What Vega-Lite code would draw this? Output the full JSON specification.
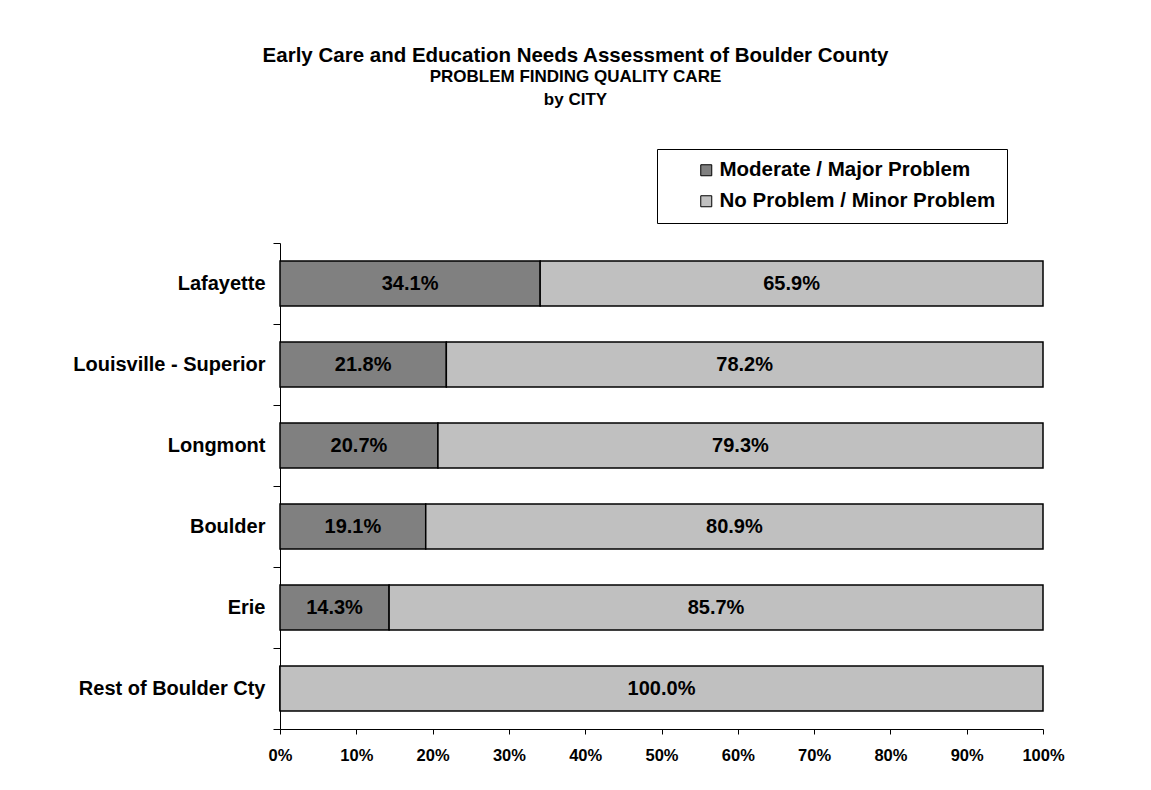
{
  "$schema": "https://vega.github.io/schema/vega-lite/v6.json",
  "width": 763,
  "height": 486,
  "autosize": {"type": "none"},
  "padding": {"left": 280, "top": 243, "right": 108, "bottom": 61},
  "background": "white",
  "title": {
    "text": "Early Care and Education Needs Assessment of Boulder County",
    "subtitle": ["PROBLEM FINDING QUALITY CARE", "by CITY"],
    "anchor": "middle",
    "frame": "group",
    "dx": -86,
    "offset": 41,
    "fontSize": 20.5,
    "font": "Liberation Sans",
    "fontWeight": "bold",
    "color": "black",
    "subtitleFontSize": 17,
    "subtitleFont": "Liberation Sans",
    "subtitleFontWeight": "bold",
    "subtitleColor": "black",
    "subtitleLineHeight": 22.5,
    "subtitlePadding": 3
  },
  "data": {
    "values": [
      {"city": "Lafayette", "category": "Moderate / Major Problem", "value": 0.341},
      {"city": "Lafayette", "category": "No Problem / Minor Problem", "value": 0.659},
      {"city": "Louisville - Superior", "category": "Moderate / Major Problem", "value": 0.218},
      {"city": "Louisville - Superior", "category": "No Problem / Minor Problem", "value": 0.782},
      {"city": "Longmont", "category": "Moderate / Major Problem", "value": 0.207},
      {"city": "Longmont", "category": "No Problem / Minor Problem", "value": 0.793},
      {"city": "Boulder", "category": "Moderate / Major Problem", "value": 0.191},
      {"city": "Boulder", "category": "No Problem / Minor Problem", "value": 0.809},
      {"city": "Erie", "category": "Moderate / Major Problem", "value": 0.143},
      {"city": "Erie", "category": "No Problem / Minor Problem", "value": 0.857},
      {"city": "Rest of Boulder Cty", "category": "Moderate / Major Problem", "value": 0.0},
      {"city": "Rest of Boulder Cty", "category": "No Problem / Minor Problem", "value": 1.0}
    ]
  },
  "transform": [
    {"calculate": "datum.category === 'Moderate / Major Problem' ? 0 : 1", "as": "order"},
    {"stack": "value", "groupby": ["city"], "sort": [{"field": "order", "order": "ascending"}], "as": ["x0", "x1"]},
    {"calculate": "(datum.x0 + datum.x1) / 2", "as": "xmid"}
  ],
  "encoding": {
    "y": {
      "field": "city",
      "type": "nominal",
      "sort": ["Lafayette", "Louisville - Superior", "Longmont", "Boulder", "Erie", "Rest of Boulder Cty"],
      "scale": {"paddingInner": 0, "paddingOuter": 0},
      "axis": {
        "title": null,
        "tickBand": "extent",
        "tickSize": 7,
        "tickColor": "black",
        "domainColor": "black",
        "labelPadding": 8,
        "labelFontSize": 20,
        "labelFont": "Liberation Sans",
        "labelFontWeight": "bold",
        "labelColor": "black",
        "labelLimit": 300
      }
    }
  },
  "layer": [
    {
      "mark": {"type": "bar", "stroke": "black", "strokeWidth": 1.5, "height": {"band": 0.556}},
      "encoding": {
        "x": {
          "field": "x0",
          "type": "quantitative",
          "scale": {"domain": [0, 1], "nice": false},
          "axis": {
            "title": null,
            "format": "%",
            "values": [0, 0.1, 0.2, 0.3, 0.4, 0.5, 0.6, 0.7, 0.8, 0.9, 1.0],
            "grid": false,
            "labelFlush": false,
            "tickSize": 5,
            "tickColor": "black",
            "domainColor": "black",
            "labelPadding": 13,
            "labelFontSize": 16.5,
            "labelFont": "Liberation Sans",
            "labelFontWeight": "bold",
            "labelColor": "black"
          }
        },
        "x2": {"field": "x1"},
        "color": {
          "field": "category",
          "type": "nominal",
          "scale": {"domain": ["Moderate / Major Problem", "No Problem / Minor Problem"], "range": ["#808080", "#C0C0C0"]},
          "legend": {
            "orient": "none",
            "legendX": 377,
            "legendY": -94,
            "title": " ",
            "titleOrient": "left",
            "titlePadding": 28,
            "titleFontSize": 12,
            "padding": 11,
            "strokeColor": "black",
            "fillColor": "white",
            "symbolType": "square",
            "symbolSize": 121,
            "symbolStrokeColor": "black",
            "symbolStrokeWidth": 1,
            "symbolOpacity": 1,
            "labelOffset": 3,
            "rowPadding": 10,
            "labelFontSize": 20.5,
            "labelFont": "Liberation Sans",
            "labelFontWeight": "bold",
            "labelColor": "black",
            "labelLimit": 400
          }
        }
      }
    },
    {
      "transform": [{"filter": "datum.value > 0"}],
      "mark": {"type": "text", "font": "Liberation Sans", "fontWeight": "bold", "fontSize": 20, "color": "black"},
      "encoding": {
        "x": {"field": "xmid", "type": "quantitative"},
        "text": {"field": "value", "type": "quantitative", "format": ".1%"}
      }
    }
  ],
  "config": {
    "view": {"stroke": null},
    "font": "Liberation Sans"
  }
}
